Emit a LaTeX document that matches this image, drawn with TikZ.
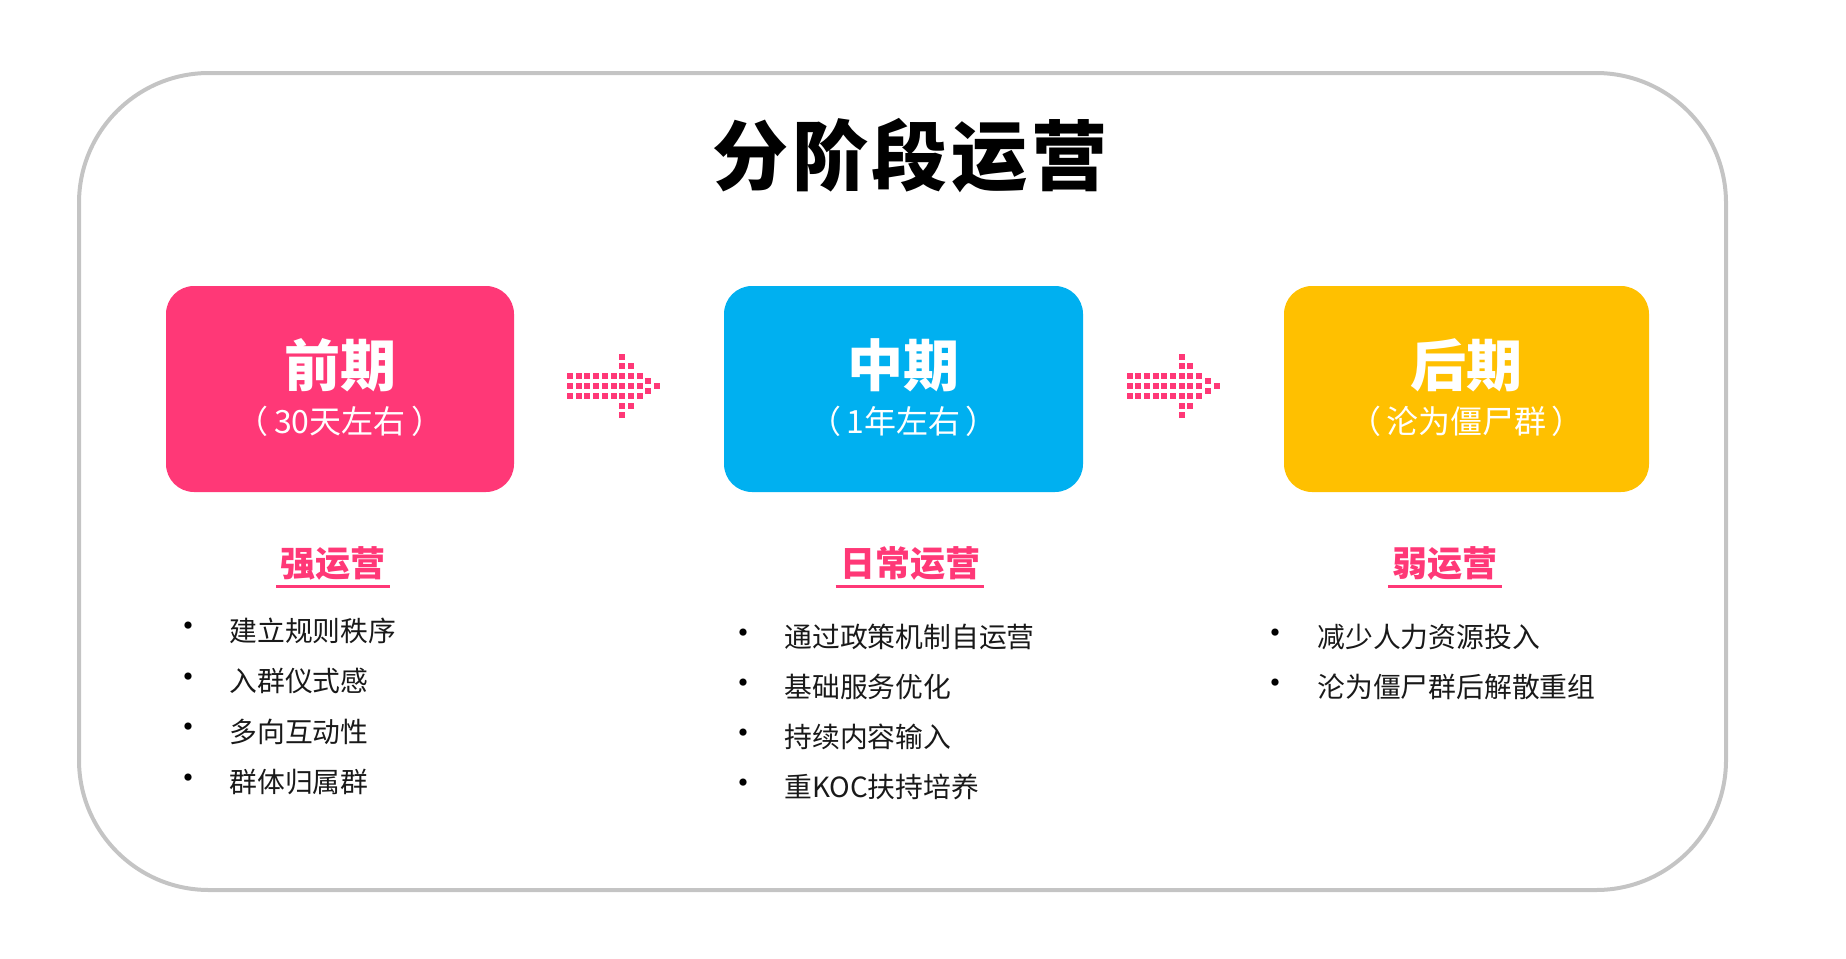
\documentclass[tikz,border=0pt]{standalone}
\usepackage{fontspec}
\setmainfont{Noto Sans CJK SC}
\usetikzlibrary{calc}
\definecolor{pinkc}{HTML}{FF3877}
\definecolor{bluec}{HTML}{00B0F0}
\definecolor{yellc}{HTML}{FFC000}
\definecolor{framec}{HTML}{C4C4C4}

\begin{document}
\begin{tikzpicture}[x=0.5pt,y=-0.5pt,
  stagebox/.style={rounded corners=14pt, minimum height=103pt, inner sep=0pt},
  stagename/.style={text=white, font=\bfseries\fontsize{28}{30}\selectfont},
  stagenote/.style={text=white, font=\fontsize{16}{18}\selectfont},
  modehead/.style={text=pinkc, font=\bfseries\fontsize{17.5}{19}\selectfont, inner sep=0pt},
  dotitem/.style={font=\fontsize{13.9}{16}\selectfont, text=black!90, anchor=west, inner sep=0pt},
  dotmark/.style={font=\fontsize{17}{18}\selectfont, text=black, inner sep=0pt},
  pixarrow/.pic={
    \foreach \c/\n in {0/1,1/1,2/1,3/1,4/1,5/1,6/3,7/2,8/1}
      \foreach \r in {-\n,...,\n}
        \fill[pinkc] ({\c*8.7-52},{\r*9.8-6}) rectangle ++(6,6);
    \foreach \r in {-0.5,0.5}
      \fill[pinkc] ({9*8.7-52},{\r*9.8-6}) rectangle ++(6,6);
    \fill[pinkc] ({10*8.7-52},{-6}) rectangle ++(6,6);
  }]
\useasboundingbox (0,0) rectangle (1846,958);
\draw[framec, line width=2pt, rounded corners=65pt] (79,73) rectangle (1726,890);

\node[font=\bfseries\fontsize{38}{40}\selectfont\addfontfeature{LetterSpace=5}] (title) at (910,156) {分阶段运营};

% stage boxes
\node[stagebox, fill=pinkc, minimum width=174pt] (early) at (340,389) {};
\node[stagebox, fill=bluec, minimum width=179.5pt] (mid) at (903.5,389) {};
\node[stagebox, fill=yellc, minimum width=182.5pt] (late) at (1466.5,389) {};

\node[stagename] (earlyname) at ([yshift=12pt]early.center) {前期};
\node[stagenote] (earlynote) at ([yshift=-16pt]early.center) {（\,30天左右\,）};
\node[stagename] (midname) at ([yshift=12pt]mid.center) {中期};
\node[stagenote] (midnote) at ([yshift=-16pt]mid.center) {（\,1年左右\,）};
\node[stagename] (latename) at ([yshift=12pt]late.center) {后期};
\node[stagenote] (latenote) at ([yshift=-16pt]late.center) {（\,沦为僵尸群\,）};

\pic at ($(early.east)!0.5!(mid.west)$) {pixarrow};
\pic at ([xshift=-2.5pt]$(mid.east)!0.5!(late.west)$) {pixarrow};

% headings
\node[modehead] (strong) at (333,563) {强运营};
\node[modehead] (daily) at (910,563) {日常运营};
\node[modehead] (weak) at (1445,563) {弱运营};
\foreach \h in {strong,daily,weak}
  \draw[pinkc, line width=1.4pt] ([xshift=-2pt,yshift=-3pt]\h.south west) -- ([xshift=2pt,yshift=-3pt]\h.south east);

% lists
\foreach \t [count=\i] in {建立规则秩序,入群仪式感,多向互动性,群体归属群}{
  \node[dotmark] (sd\i) at (188,{580+\i*50.5}) {•};
  \node[dotitem] (st\i) at (229,{580+\i*50.5}) {\t};
}
\foreach \t [count=\i] in {通过政策机制自运营,基础服务优化,持续内容输入,重KOC扶持培养}{
  \node[dotmark] (dd\i) at (743,{587+\i*50}) {•};
  \node[dotitem] (dt\i) at (784,{587+\i*50}) {\t};
}
\foreach \t [count=\i] in {减少人力资源投入,沦为僵尸群后解散重组}{
  \node[dotmark] (wd\i) at (1275,{587+\i*50}) {•};
  \node[dotitem] (wt\i) at (1317,{587+\i*50}) {\t};
}
\end{tikzpicture}
\end{document}
